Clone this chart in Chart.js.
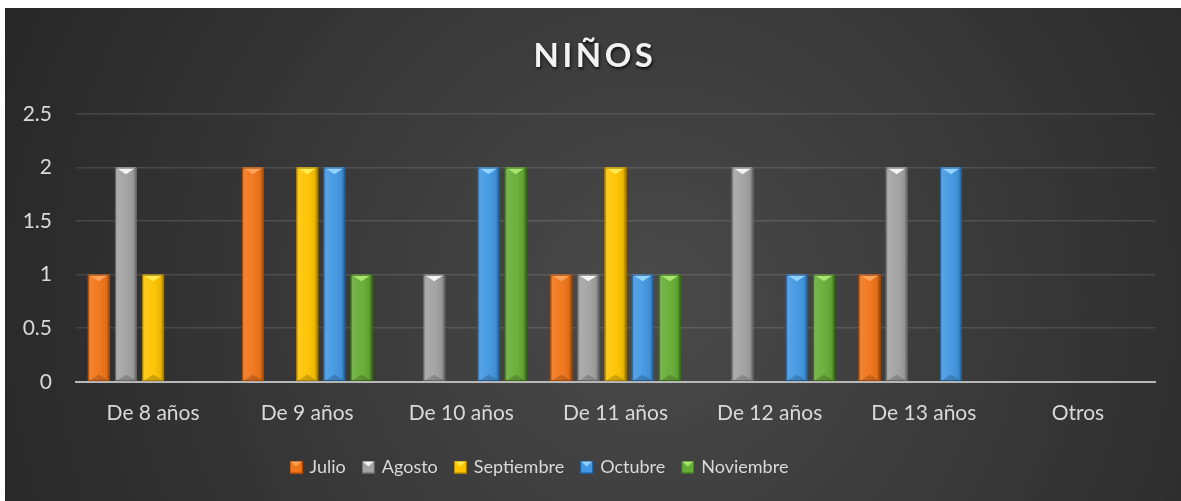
<!DOCTYPE html>
<html>
<head>
<meta charset="utf-8">
<title>NIÑOS</title>
<script src="https://cdn.jsdelivr.net/npm/chart.js@4.4.1/dist/chart.umd.min.js"></script>
<style>
    html, body { margin: 0; padding: 0; background: #ffffff; }
    #wrap { position: absolute; left: 5px; top: 8px; width: 1176px; height: 493px; }
</style>
</head>
<body>
<div id="wrap"><canvas id="myChart"></canvas></div>
<script>
// datos
const chartTitle = 'NIÑOS';
const categorias = ['De 8 años', 'De 9 años', 'De 10 años', 'De 11 años', 'De 12 años', 'De 13 años', 'Otros'];
const julio      = [1, 2, 0, 1, 0, 1, 0];
const agosto     = [2, 0, 1, 1, 2, 2, 0];
const septiembre = [1, 2, 0, 2, 0, 0, 0];
const octubre    = [0, 2, 2, 1, 1, 2, 0];
const noviembre  = [0, 1, 2, 1, 1, 0, 0];
const yTicks     = [0, 0.5, 1, 1.5, 2, 2.5];

// colores: base, bisel claro, borde oscuro
const colores = [
    ['#F27519', '#FFA35C', '#A84C08'],
    ['#A3A3A3', '#F4F4F4', '#666666'],
    ['#FFC400', '#FFEB4D', '#A87F00'],
    ['#4398E3', '#92D3FF', '#1F5E99'],
    ['#67AE36', '#A8E671', '#3C6E1C']
];

// cuadritos de la leyenda con bisel
function legendBox(c) {
    const cv = document.createElement('canvas');
    cv.width = 13; cv.height = 13;
    const g = cv.getContext('2d');
    g.fillStyle = c[2];
    g.fillRect(0, 0, 13, 13);
    g.fillStyle = c[0];
    g.fillRect(1, 1, 11, 11);
    g.fillStyle = c[1];
    g.beginPath();
    g.moveTo(1, 1); g.lineTo(12, 1); g.lineTo(6.5, 6); g.closePath();
    g.fill();
    return cv;
}

// fondo con degradado radial
const fondo = {
    id: 'fondo',
    beforeDraw(chart) {
        const ctx = chart.ctx, w = chart.width, h = chart.height;
        const grd = ctx.createRadialGradient(w * 0.55, h * 0.6, 0, w * 0.55, h * 0.6, w * 0.62);
        grd.addColorStop(0, '#4a4a4a');
        grd.addColorStop(1, '#262626');
        ctx.save();
        ctx.fillStyle = grd;
        ctx.fillRect(0, 0, w, h);
        ctx.restore();
    }
};

// la leyenda va un poco a la izquierda y arriba, como en el original
const moverLeyenda = {
    id: 'moverLeyenda',
    afterLayout(chart) {
        const lg = chart.legend;
        lg.left -= 40; lg.right -= 40;
        lg.top -= 5; lg.bottom -= 5;
    }
};

// título con espaciado y sombra
const titulo = {
    id: 'titulo',
    afterDraw(chart) {
        const ctx = chart.ctx;
        ctx.save();
        ctx.font = 'bold 33px Lato';
        ctx.letterSpacing = '3.5px';
        ctx.textAlign = 'center';
        ctx.textBaseline = 'middle';
        ctx.shadowColor = 'rgba(0,0,0,0.75)';
        ctx.shadowOffsetX = 1;
        ctx.shadowOffsetY = 2;
        ctx.shadowBlur = 3;
        ctx.fillStyle = '#f2f2f2';
        ctx.fillText(chartTitle, chart.width / 2 + 2, 48);
        ctx.restore();
    }
};

// bisel de las barras
const bisel = {
    id: 'bisel',
    afterDatasetsDraw(chart) {
        const ctx = chart.ctx;
        chart.data.datasets.forEach((ds, i) => {
            const meta = chart.getDatasetMeta(i);
            const c = colores[i];
            meta.data.forEach(bar => {
                const p = bar.getProps(['x', 'y', 'base', 'width'], true);
                const h = p.base - p.y;
                if (h < 1) return;
                const l = p.x - p.width / 2, r = p.x + p.width / 2;
                ctx.save();
                const grd = ctx.createLinearGradient(l, 0, r, 0);
                grd.addColorStop(0, 'rgba(0,0,0,0.35)');
                grd.addColorStop(0.12, 'rgba(255,255,255,0.10)');
                grd.addColorStop(0.45, 'rgba(255,255,255,0.04)');
                grd.addColorStop(0.85, 'rgba(0,0,0,0.08)');
                grd.addColorStop(1, 'rgba(0,0,0,0.45)');
                ctx.fillStyle = grd;
                ctx.fillRect(l, p.y, p.width, h);
                // triángulo superior claro
                ctx.fillStyle = c[1];
                ctx.beginPath();
                ctx.moveTo(l + 1, p.y);
                ctx.lineTo(r - 1, p.y);
                ctx.lineTo(p.x, p.y + p.width * 0.3);
                ctx.closePath();
                ctx.fill();
                // triángulo inferior oscuro
                ctx.fillStyle = 'rgba(0,0,0,0.18)';
                ctx.beginPath();
                ctx.moveTo(l + 1, p.base);
                ctx.lineTo(r - 1, p.base);
                ctx.lineTo(p.x, p.base - p.width * 0.3);
                ctx.closePath();
                ctx.fill();
                ctx.strokeStyle = c[2];
                ctx.lineWidth = 1;
                ctx.strokeRect(l + 0.5, p.y + 0.5, p.width - 1, h - 1);
                ctx.restore();
            });
        });
    }
};

const series = [
    ['Julio', julio],
    ['Agosto', agosto],
    ['Septiembre', septiembre],
    ['Octubre', octubre],
    ['Noviembre', noviembre]
];

const ctx = document.getElementById('myChart').getContext('2d');
new Chart(ctx, {
    type: 'bar',
    data: {
        labels: categorias,
        datasets: series.map((s, i) => ({
            label: s[0],
            data: s[1],
            backgroundColor: colores[i][0],
            borderWidth: 0,
            pointStyle: legendBox(colores[i]),
            categoryPercentage: 0.88,
            barPercentage: 0.81
        }))
    },
    options: {
        responsive: true,
        maintainAspectRatio: false,
        animation: false,
        layout: {
            padding: { top: 106, left: 0, right: 26, bottom: 10 }
        },
        plugins: {
            title: { display: false },
            tooltip: { enabled: false },
            legend: {
                position: 'bottom',
                labels: {
                    usePointStyle: true,
                    pointStyleWidth: 9,
                    color: '#d9d9d9',
                    font: { family: 'Lato', size: 18 },
                    padding: 18
                }
            }
        },
        scales: {
            x: {
                grid: { display: false, drawTicks: false },
                border: { display: true, color: '#b8b8b8', width: 2 },
                ticks: {
                    color: '#d9d9d9',
                    font: { family: 'Lato', size: 21 },
                    padding: 19,
                    maxRotation: 0
                }
            },
            y: {
                min: 0,
                max: 2.5,
                afterBuildTicks(scale) {
                    scale.ticks = yTicks.map(v => ({ value: v }));
                },
                afterFit(scale) {
                    scale.width = 71;
                },
                grid: { color: 'rgba(255,255,255,0.12)', lineWidth: 1.5, drawTicks: false },
                border: { display: false },
                ticks: {
                    color: '#d9d9d9',
                    font: { family: 'Lato', size: 21 },
                    padding: 24,
                    callback: v => String(v)
                }
            }
        }
    },
    plugins: [fondo, moverLeyenda, titulo, bisel]
});
</script>
</body>
</html>
